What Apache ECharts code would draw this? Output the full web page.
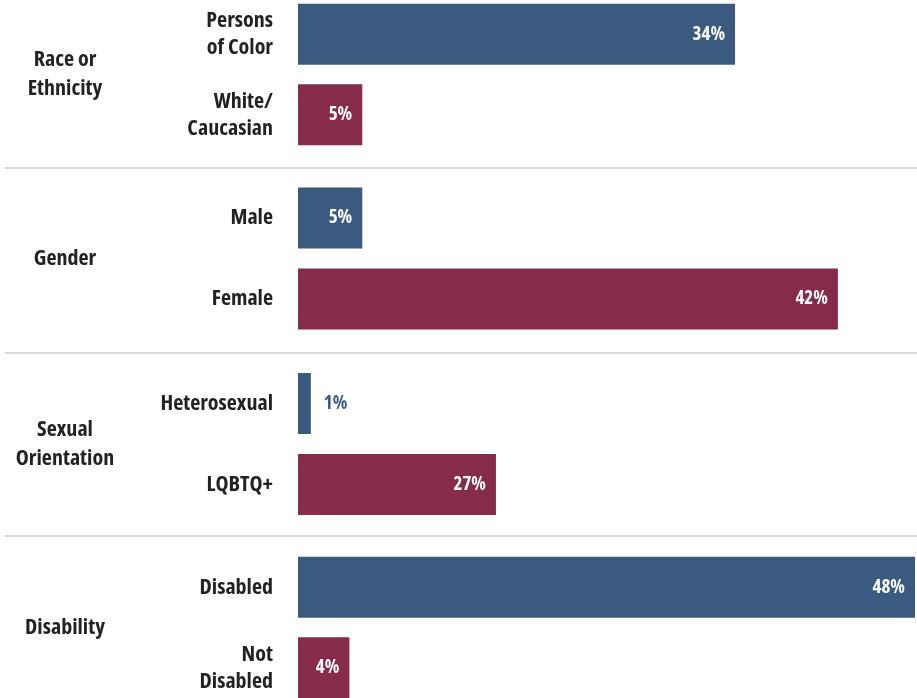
<!DOCTYPE html>
<html>
<head>
<meta charset="utf-8">
<script src="https://cdn.jsdelivr.net/npm/echarts@6/dist/echarts.min.js"></script>
<style>html,body{margin:0;padding:0;background:#fff;overflow:hidden;width:917px;height:698px;}#c{position:absolute;left:0;top:-6px;width:917px;height:730px;}</style>
</head>
<body>
<div id="c"></div>
<script>
const groups = ['Race or\nEthnicity', 'Gender', 'Sexual\nOrientation', 'Disability'];
const categories = [
  ['Persons\nof Color', 'White/\nCaucasian'],
  ['Male', 'Female'],
  ['Heterosexual', 'LQBTQ+'],
  ['Disabled', 'Not\nDisabled']
];
// bar lengths as drawn in the picture (percent of scale)
const barValues = [[34, 5], [5, 42], [1, 15.4], [48, 4]];
// printed percentages
const printedPct = [[34, 5], [5, 42], [1, 27], [48, 4]];

const BLUE = '#3a5b7f', MAROON = '#862b48';
const FONT = '"Open Sans",sans-serif';
const OFF = 6; // container is shifted up by 6px
const gridTops = [-6, 177.5, 363, 547];
const gridHeights = [161, 162, 162, 161];
const namePad = [[8, 0, 0, 0], [8, 0, 0, 0], [7, 0, 0, 0], [13, 0, 0, 0]];

const grid = [], xAxis = [], yAxis = [], series = [];
groups.forEach((g, i) => {
  grid.push({ left: 298, right: 2, top: gridTops[i] + OFF, height: gridHeights[i] });
  xAxis.push({ gridIndex: i, type: 'value', min: 0, max: 48, show: false });
  yAxis.push({
    gridIndex: i, type: 'category', inverse: true, data: categories[i],
    axisLine: { show: false }, axisTick: { show: false },
    axisLabel: { margin: 25, color: '#222', fontFamily: FONT, fontStyle: 'condensed', fontWeight: 'bold', fontSize: 22, lineHeight: 27, align: 'right' },
    name: g, nameLocation: 'middle', nameRotate: 0, nameGap: 233,
    nameTextStyle: { color: '#222', fontFamily: FONT, fontStyle: 'condensed', fontWeight: 'bold', fontSize: 22, lineHeight: 29, align: 'center', padding: namePad[i] }
  });
  series.push({
    type: 'bar', xAxisIndex: i, yAxisIndex: i, barWidth: 61, silent: true,
    data: barValues[i].map((v, j) => {
      const pct = printedPct[i][j];
      const inside = v >= 3;
      return {
        value: v,
        itemStyle: { color: j === 0 ? BLUE : MAROON },
        label: {
          show: true,
          formatter: pct + '%',
          position: inside ? 'insideRight' : 'right',
          distance: inside ? 10 : 13,
          color: inside ? '#fff' : BLUE,
          fontFamily: FONT, fontStyle: 'condensed', fontWeight: 'bold', fontSize: 19
        }
      };
    })
  });
});

const sepY = [168, 353, 536];
const graphic = sepY.map(y => ({
  type: 'line', shape: { x1: 5, y1: y + OFF, x2: 917, y2: y + OFF },
  style: { stroke: '#d9d9d9', lineWidth: 2 }, silent: true
}));

const chart = echarts.init(document.getElementById('c'), null, { renderer: 'canvas' });
chart.setOption({ animation: false, grid, xAxis, yAxis, series, graphic });
</script>
</body>
</html>
